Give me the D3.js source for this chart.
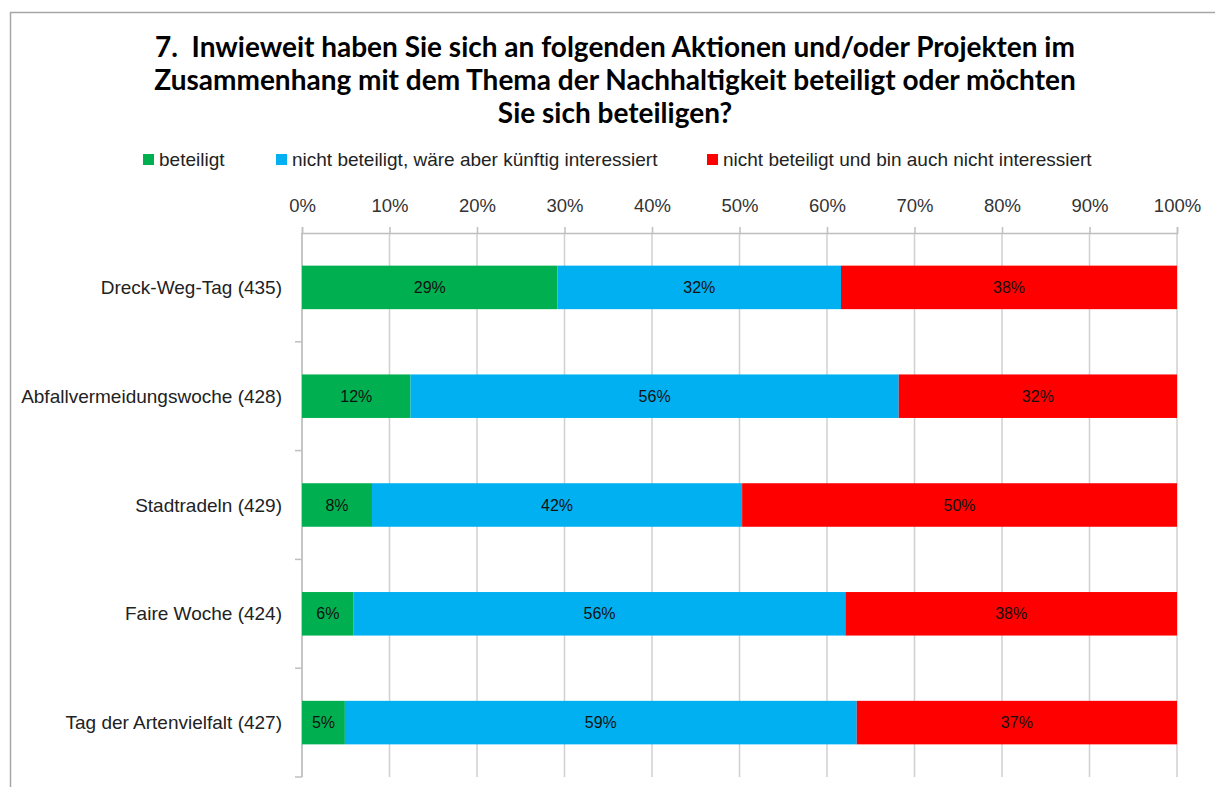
<!DOCTYPE html>
<html>
<head>
<meta charset="utf-8">
<script src="https://cdn.jsdelivr.net/npm/d3@7"></script>
<style>
  body { margin: 0; background: #fff; }
  text { font-family: 'Liberation Sans', Arial, sans-serif; }
  .title { font-family: Lato, 'Liberation Sans', sans-serif; font-weight: bold; font-size: 28px; fill: #000; white-space: pre; }
</style>
</head>
<body>
<div id="container"></div>
<script>
const w = 1215,
  h = 787;

const categories = [
  'Dreck-Weg-Tag (435)',
  'Abfallvermeidungswoche (428)',
  'Stadtradeln (429)',
  'Faire Woche (424)',
  'Tag der Artenvielfalt (427)'
];
const seriesNames = [
  'beteiligt',
  'nicht beteiligt, wäre aber künftig interessiert',
  'nicht beteiligt und bin auch nicht interessiert'
];
// shares in percent
const beteiligt = [29.2, 12.4, 8.0, 5.9, 4.9];
const interessiert = [32.4, 55.8, 42.3, 56.2, 58.5];
const nichtInteressiert = [38.4, 31.8, 49.7, 37.9, 36.6];
// printed labels
const labelsBeteiligt = ['29%', '12%', '8%', '6%', '5%'];
const labelsInteressiert = ['32%', '56%', '42%', '56%', '59%'];
const labelsNicht = ['38%', '32%', '50%', '38%', '37%'];
const tickValues = [0, 10, 20, 30, 40, 50, 60, 70, 80, 90, 100];
const titleLines = [
  '7.  Inwieweit haben Sie sich an folgenden Aktionen und/oder Projekten im',
  'Zusammenhang mit dem Thema der Nachhaltigkeit beteiligt oder möchten',
  'Sie sich beteiligen?'
];

const colors = ['#00B050', '#00B0F0', '#FF0000'];

const svg = d3.select('#container').append('svg').attr('width', w).attr('height', h);

// outer frame
svg
  .append('rect')
  .attr('x', 10.5)
  .attr('y', 12.5)
  .attr('width', 1300)
  .attr('height', 900)
  .attr('fill', 'none')
  .attr('stroke', '#a6a6a6')
  .attr('stroke-width', 1.5);

svg
  .selectAll('.title')
  .data(titleLines)
  .enter()
  .append('text')
  .attr('class', 'title')
  .attr('x', 615)
  .attr('y', (d, i) => 57 + i * 33)
  .attr('text-anchor', 'middle')
  .text((d) => d);

// legend
const legendX = [143, 276, 707];
const legend = svg
  .selectAll('.legend')
  .data(seriesNames)
  .enter()
  .append('g')
  .attr('class', 'legend')
  .attr('transform', (d, i) => 'translate(' + legendX[i] + ', 160)');
legend
  .append('rect')
  .attr('x', 0)
  .attr('y', -6)
  .attr('width', 11)
  .attr('height', 11)
  .attr('fill', (d, i) => colors[i]);
legend
  .append('text')
  .attr('x', 16)
  .attr('y', 6)
  .attr('font-size', 19)
  .attr('fill', '#222')
  .text((d) => d);

const xScale = d3.scaleLinear().domain([0, 100]).range([302, 1177]);
const yScale = d3.scaleBand().domain(categories).range([233, 777]).padding(0);

// gridlines
svg
  .append('g')
  .selectAll('line')
  .data(tickValues)
  .enter()
  .append('line')
  .attr('x1', (d) => xScale(d))
  .attr('x2', (d) => xScale(d))
  .attr('y1', 233)
  .attr('y2', 777)
  .attr('stroke', '#d0d0d0')
  .attr('stroke-width', 1.5);

// top axis
const xAxis = d3
  .axisTop(xScale)
  .tickValues(tickValues)
  .tickSize(6)
  .tickPadding(15)
  .tickFormat((d) => d + '%');
const gx = svg.append('g').attr('transform', 'translate(0, 233)').call(xAxis);
gx.select('.domain').attr('stroke', '#bfbfbf').attr('stroke-width', 1.5);
gx.selectAll('.tick line').attr('stroke', '#bfbfbf').attr('stroke-width', 1.5);
gx.selectAll('.tick text')
  .attr('font-size', 18.5)
  .attr('font-family', "'Liberation Sans', Arial, sans-serif")
  .attr('fill', '#333');

// left axis: line with ticks at category boundaries
const gy = svg.append('g');
gy.append('line')
  .attr('x1', 302)
  .attr('x2', 302)
  .attr('y1', 233)
  .attr('y2', 777)
  .attr('stroke', '#bfbfbf')
  .attr('stroke-width', 1.5);
const bounds = categories.map((c) => yScale(c) + yScale.bandwidth());
gy.selectAll('.ytick')
  .data(bounds)
  .enter()
  .append('line')
  .attr('x1', 295)
  .attr('x2', 302)
  .attr('y1', (d) => d)
  .attr('y2', (d) => d)
  .attr('stroke', '#bfbfbf')
  .attr('stroke-width', 1.5);
gy.selectAll('.ylabel')
  .data(categories)
  .enter()
  .append('text')
  .attr('x', 282)
  .attr('y', (d) => yScale(d) + yScale.bandwidth() / 2)
  .attr('dy', '0.35em')
  .attr('text-anchor', 'end')
  .attr('font-size', 19)
  .attr('fill', '#222')
  .text((d) => d);

// stacked bars
const table = categories.map((c, i) => ({
  cat: c,
  a: beteiligt[i],
  b: interessiert[i],
  c: nichtInteressiert[i],
  la: labelsBeteiligt[i],
  lb: labelsInteressiert[i],
  lc: labelsNicht[i]
}));
const stack = d3.stack().keys(['a', 'b', 'c'])(table);
const labelKeys = { a: 'la', b: 'lb', c: 'lc' };

const barTop = yScale.bandwidth() * 0.3;
const barH = yScale.bandwidth() * 0.4;

stack.forEach((layer, k) => {
  const g = svg.append('g');
  g.selectAll('rect')
    .data(layer)
    .enter()
    .append('rect')
    .attr('x', (d) => xScale(d[0]))
    .attr('y', (d) => yScale(d.data.cat) + barTop)
    .attr('width', (d) => xScale(d[1]) - xScale(d[0]))
    .attr('height', barH)
    .attr('fill', colors[k]);
  g.selectAll('text')
    .data(layer)
    .enter()
    .append('text')
    .attr('x', (d) => (xScale(d[0]) + xScale(d[1])) / 2)
    .attr('y', (d) => yScale(d.data.cat) + yScale.bandwidth() / 2)
    .attr('dy', '0.35em')
    .attr('text-anchor', 'middle')
    .attr('font-size', 16)
    .attr('fill', '#111')
    .text((d) => d.data[labelKeys[layer.key]]);
});
</script>
</body>
</html>
